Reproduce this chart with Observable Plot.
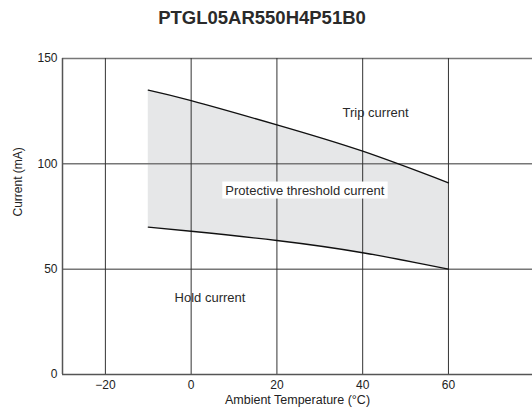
<!DOCTYPE html>
<html>
<head>
<meta charset="utf-8">
<script src="https://cdn.jsdelivr.net/npm/d3@7"></script>
<script src="https://cdn.jsdelivr.net/npm/@observablehq/plot@0.6"></script>
<style>
  body { margin: 0; background: #fff; font-family: "Liberation Sans", Arial, sans-serif; }
  #title { height: 36px; line-height: 36px; text-align: center; font-size: 18.5px; font-weight: bold; color: #2a2a2a; width: 524px; }
</style>
</head>
<body>
<div id="title">PTGL05AR550H4P51B0</div>
<div id="chart"></div>
<script>
const temps = [-10, 0, 20, 40, 60];
const tripCurrent = [135, 130, 118.5, 106, 91];
const holdCurrent = [70, 68, 63.6, 57.8, 50];
const xTicks = [-20, 0, 20, 40, 60];
const yTicks = [0, 50, 100, 150];
const labels = [
  {text: "Trip current", t: 43, c: 124.4},
  {text: "Protective threshold current", t: 26.5, c: 87.4},
  {text: "Hold current", t: 4.4, c: 36.6}
];

const rows = temps.map((t, i) => ({t, trip: tripCurrent[i], hold: holdCurrent[i]}));

const plot = Plot.plot({
  width: 532,
  height: 380,
  marginTop: 22,
  marginBottom: 42,
  marginLeft: 62,
  marginRight: 0,
  style: {fontFamily: "'Liberation Sans', Arial, sans-serif", fontSize: "12px", color: "#222"},
  x: {domain: [-30, 79.6], ticks: xTicks, tickSize: 0, tickPadding: 6, label: null},
  y: {domain: [0, 150], ticks: yTicks, tickSize: 0, tickPadding: 5, label: null},
  marks: [
    Plot.areaY(rows, {x: "t", y1: "hold", y2: "trip", fill: "#e6e7e8", curve: "natural"}),
    Plot.ruleY(yTicks.filter(d => d > 0), {stroke: "#777", strokeWidth: 1.5}),
    Plot.ruleX(xTicks, {y1: 0, y2: 150, stroke: "#333", strokeWidth: 1}),
    Plot.ruleX([-30], {y1: 0, y2: 150, stroke: "#555", strokeWidth: 1.5}),
    Plot.ruleY([0], {stroke: "#555", strokeWidth: 1.5}),
    Plot.line(rows, {x: "t", y: "trip", stroke: "#111", strokeWidth: 1.3, curve: "natural"}),
    Plot.line(rows, {x: "t", y: "hold", stroke: "#111", strokeWidth: 1.3, curve: "natural"}),
    Plot.text(labels, {x: "t", y: "c", text: "text", fontSize: 13, fill: "#2a2a2a"}),
    Plot.text(["Current (mA)"], {frameAnchor: "left", rotate: -90, dx: -44, fontSize: 12, fill: "#222"}),
    Plot.text(["Ambient Temperature (°C)"], {frameAnchor: "bottom", dy: 29, fontSize: 12.5, fill: "#222"})
  ]
});
document.getElementById("chart").appendChild(plot);

// white box behind the middle label
plot.querySelectorAll("text").forEach(el => {
  if (el.textContent === "Protective threshold current") {
    const b = el.getBBox();
    const r = document.createElementNS("http://www.w3.org/2000/svg", "rect");
    r.setAttribute("x", b.x - 3);
    r.setAttribute("y", b.y - 1);
    r.setAttribute("width", b.width + 6);
    r.setAttribute("height", b.height + 2);
    r.setAttribute("fill", "#fff");
    const tr = el.getAttribute("transform");
    if (tr) r.setAttribute("transform", tr);
    el.parentNode.insertBefore(r, el);
  }
});
</script>
</body>
</html>
